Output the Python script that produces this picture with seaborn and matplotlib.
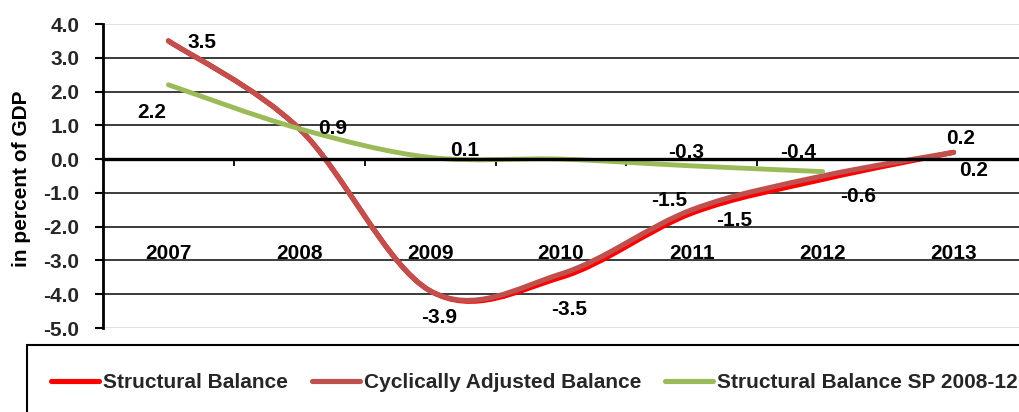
import matplotlib
matplotlib.use("Agg")
import matplotlib.pyplot as plt
import numpy as np
import seaborn as sns
from matplotlib.lines import Line2D
from matplotlib.path import Path
from matplotlib.patches import PathPatch, Rectangle

# data
years = [2007, 2008, 2009, 2010, 2011, 2012, 2013]
structural = [3.5, 0.9, -3.9, -3.5, -1.6, -0.6, 0.2]
cyclical = [3.5, 0.9, -3.9, -3.4, -1.5, -0.5, 0.2]
sp_years = [2007, 2008, 2009, 2010, 2011, 2012]
sp_balance = [2.2, 0.9, 0.05, 0.0, -0.2, -0.37]

structural_labels = ["", "", "", "-3.5", "-1.5", "-0.6", "0.2"]
cyclical_labels = ["3.5", "", "-3.9", "", "-1.5", "", "0.2"]
sp_labels = ["2.2", "0.9", "0.1", "", "-0.3", "-0.4"]

series_names = ["Structural Balance", "Cyclically Adjusted Balance", "Structural Balance SP 2008-12"]
y_ticks = [-5, -4, -3, -2, -1, 0, 1, 2, 3, 4]

COLORS = ["#FF0000", "#C0504D", "#9BBB59"]


def smooth_path(xs, ys):
    # Excel style smoothed line: cubic bezier through the points
    pts = np.column_stack([xs, ys]).astype(float)
    verts = [pts[0]]
    codes = [Path.MOVETO]
    for i in range(len(pts) - 1):
        p0 = pts[i - 1] if i > 0 else pts[i]
        p1 = pts[i]
        p2 = pts[i + 1]
        p3 = pts[i + 2] if i + 2 < len(pts) else pts[i + 1]
        verts += [p1 + (p2 - p0) / 6, p2 - (p3 - p1) / 6, p2]
        codes += [Path.CURVE4] * 3
    return Path(verts, codes)


sns.set_theme(style="white")
plt.rcParams["font.family"] = ["Liberation Sans", "DejaVu Sans"]
plt.rcParams["font.weight"] = "bold"

fig = plt.figure(figsize=(10.19, 4.12), dpi=100)
ax = fig.add_axes([103 / 1019, 84 / 412, 916 / 1019, 304 / 412])
ax.set_xlim(2006.5, 2013.5)
ax.set_ylim(-5, 4)

# grid
ax.set_yticks(y_ticks)
ax.set_yticklabels([f"{v:.1f}" for v in y_ticks], fontsize=15, fontweight="bold")
ax.yaxis.grid(True, color="#1a1a1a", linewidth=1.2)
gl = ax.get_ygridlines()
gl[0].set_color("#dddddd")
gl[-1].set_color("#dddddd")
ax.set_axisbelow(True)

ax.tick_params(axis="y", direction="out", length=6, width=1.5, color="black", pad=11, left=True)
ax.spines["left"].set_color("black")
ax.spines["left"].set_linewidth(2)
ax.spines["top"].set_visible(False)
ax.spines["right"].set_visible(False)
ax.spines["bottom"].set_position(("data", 0))
ax.spines["bottom"].set_color("black")
ax.spines["bottom"].set_linewidth(2.4)
ax.set_xticks(np.arange(2007.5, 2013.5, 1))
ax.set_xticklabels([])
ax.tick_params(axis="x", direction="out", length=5, width=1.3, color="black", bottom=True)

for yr in years:
    ax.text(yr, -2.8, str(yr), ha="center", va="center", fontsize=15, fontweight="bold", color="black")

ax.set_ylabel("in percent of GDP", fontsize=15, fontweight="bold", color="black")
ax.yaxis.set_label_coords(-72 / 916, 0.49)

# lines: red below, brown, green on top
for xs, ys, color, lw in [
    (years, structural, COLORS[0], 3.7),
    (years, cyclical, COLORS[1], 3.7),
    (sp_years, sp_balance, COLORS[2], 3.5),
]:
    ax.add_patch(PathPatch(smooth_path(xs, ys), facecolor="none", edgecolor=color,
                           linewidth=lw, capstyle="round", joinstyle="round"))

# data labels (offsets in pixels)
label_sets = [
    (years, structural, structural_labels, [None, None, None, (8, -32), (42, -7), (35, -17), (20, -18)]),
    (years, cyclical, cyclical_labels, [(34, -2), None, (9, -27), None, (-23, 9), None, (7, 14)]),
    (sp_years, sp_balance, sp_labels, [(-17, -28), (33, 0), (35, 7), None, (-6, 13), (-25, 19)]),
]
for xs, ys, texts, offsets in label_sets:
    for x, y, t, off in zip(xs, ys, texts, offsets):
        if t and off:
            ax.annotate(t, (x, y), xytext=off, textcoords="offset pixels", ha="center", va="center",
                        fontsize=15, fontweight="bold", color="black")

# legend box at the bottom
fig.patches.append(Rectangle((27 / 1019, -0.02), 1.1, (412 - 345) / 412 + 0.02, transform=fig.transFigure,
                             facecolor="none", edgecolor="black", linewidth=1.5))
handles = [Line2D([0], [0], color=c, linewidth=3.7, solid_capstyle="round") for c in COLORS]
fig.legend(handles, series_names, loc="center left", bbox_to_anchor=(51 / 1019, 1 - 383 / 412),
           ncol=3, frameon=False, prop={"weight": "bold", "size": 15},
           handlelength=2.3, handletextpad=0.2, columnspacing=1.15, borderpad=0, borderaxespad=0)

fig.savefig("out.png", dpi=100)
